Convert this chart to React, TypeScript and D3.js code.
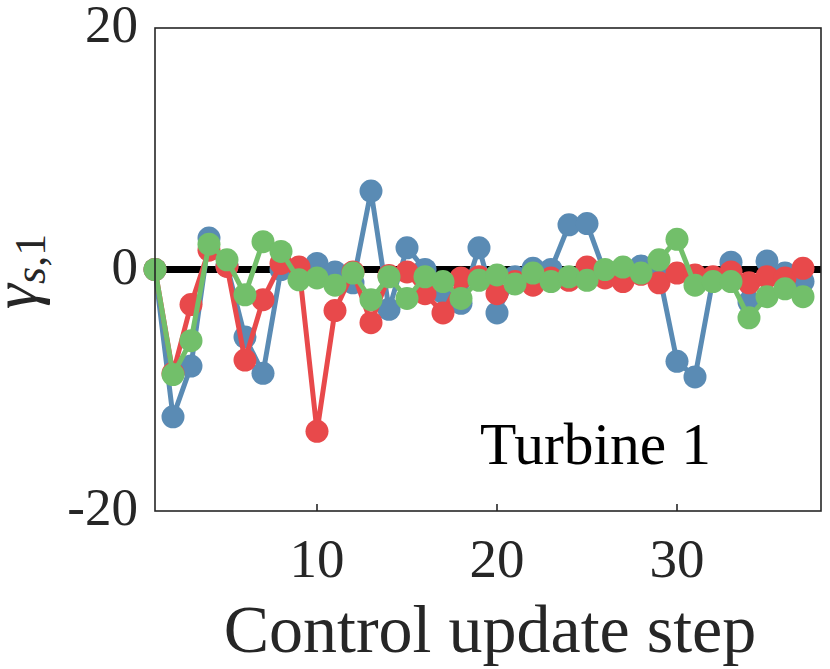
import { useEffect, useRef } from 'react';
import * as d3 from 'd3';

// control update steps 1..37
const steps = d3.range(1, 38);

const blueSeries = [0, -12.2, -8.0, 2.6, 0.3, -5.6, -8.6, 0, -0.3, 0.5, -0.2, -1.1, 6.5, -3.3, 1.8, 0, -1.9, -2.8, 1.8, -3.6, -0.6, 0.1, 0, 3.7, 3.8, -0.3, -0.2, 0.3, -0.3, -7.6, -8.9, -0.8, 0.6, -2.7, 0.7, -0.3, -1.0];
const redSeries = [0, -8.6, -2.9, 1.6, 0.25, -7.5, -2.5, 0.5, 0.2, -13.4, -3.4, -0.2, -4.4, -0.5, -0.2, -2.0, -3.6, -0.7, -0.6, -2.0, -1.0, -1.3, -0.7, -0.9, 0.2, -0.7, -1.0, -0.4, -1.1, -0.3, -0.45, -0.6, -0.2, -1.1, -0.6, -0.7, 0.1];
const greenSeries = [0, -8.7, -5.9, 2.1, 0.8, -2.1, 2.3, 1.5, -0.85, -0.7, -1.3, -0.3, -2.5, -0.6, -2.4, -0.6, -1.0, -2.4, -0.9, -0.45, -1.2, -0.3, -1.0, -0.6, -0.9, 0, 0.2, -0.3, 0.8, 2.5, -1.3, -1.0, -1.0, -4.0, -2.25, -1.6, -2.25];

const seriesColors = ['#5a8bb4', '#e8494b', '#72bf6a'];
const xTicks = [10, 20, 30];
const yTicks = [-20, 0, 20];

export default function App() {
  const svgRef = useRef<SVGSVGElement>(null);

  useEffect(() => {
    if (!svgRef.current) return;
    const W = 830;
    const H = 669;
    const margin = { top: 28, right: 9, bottom: 158, left: 155 };
    const width = W - margin.left - margin.right;
    const height = H - margin.top - margin.bottom;

    const root = d3.select(svgRef.current);
    root.selectAll('*').remove();
    const svg = root.append('g').attr('transform', `translate(${margin.left},${margin.top})`);

    const x = d3.scaleLinear().domain([1, 38]).range([0, width]);
    const y = d3.scaleLinear().domain([-20, 20]).range([height, 0]);
    const font = 'Liberation Serif, Times New Roman, serif';
    const axisColor = '#262626';

    // zero reference line
    svg
      .append('line')
      .attr('x1', 0)
      .attr('x2', width)
      .attr('y1', y(0))
      .attr('y2', y(0))
      .attr('stroke', '#000')
      .attr('stroke-width', 7);

    // series: blue, red, green (green on top)
    const all = [blueSeries, redSeries, greenSeries];
    const line = d3
      .line<number>()
      .x((_, i) => x(steps[i]))
      .y((d) => y(d));

    all.forEach((vals, k) => {
      svg
        .append('path')
        .datum(vals)
        .attr('d', line)
        .attr('fill', 'none')
        .attr('stroke', seriesColors[k])
        .attr('stroke-width', 5)
        .attr('stroke-linejoin', 'round');
      svg
        .append('g')
        .selectAll('circle')
        .data(vals)
        .join('circle')
        .attr('cx', (_, i) => x(steps[i]))
        .attr('cy', (d) => y(d))
        .attr('r', 11.5)
        .attr('fill', seriesColors[k]);
    });

    // frame
    svg
      .append('rect')
      .attr('x', 0)
      .attr('y', 0)
      .attr('width', width)
      .attr('height', height)
      .attr('fill', 'none')
      .attr('stroke', axisColor)
      .attr('stroke-width', 1.6);

    // inner ticks
    svg
      .append('g')
      .selectAll('line')
      .data(xTicks)
      .join('line')
      .attr('x1', (d) => x(d))
      .attr('x2', (d) => x(d))
      .attr('y1', height)
      .attr('y2', height - 7)
      .attr('stroke', axisColor)
      .attr('stroke-width', 1.6);

    // tick labels
    svg
      .append('g')
      .selectAll('text')
      .data(xTicks)
      .join('text')
      .attr('x', (d) => x(d))
      .attr('y', height + 66)
      .attr('text-anchor', 'middle')
      .style('font-family', font)
      .attr('font-size', 55)
      .attr('fill', axisColor)
      .text((d) => d);

    svg
      .append('g')
      .selectAll('text')
      .data(yTicks)
      .join('text')
      .attr('x', -17)
      .attr('y', (d) => y(d) + 14)
      .attr('text-anchor', 'end')
      .style('font-family', font)
      .attr('font-size', 53)
      .attr('fill', axisColor)
      .text((d) => d);

    // x label
    svg
      .append('text')
      .attr('x', width / 2 + 2)
      .attr('y', height + 141)
      .attr('text-anchor', 'middle')
      .style('font-family', font)
      .attr('font-size', 68)
      .attr('fill', axisColor)
      .text('Control update step');

    // y label
    const yl = svg
      .append('text')
      .attr('transform', `translate(${-119},${y(0) + 2}) rotate(-90)`)
      .attr('text-anchor', 'middle')
      .style('font-family', font)
      .attr('fill', axisColor);
    yl.append('tspan').attr('font-size', 64).attr('font-style', 'italic').text('γ');
    yl.append('tspan').attr('font-size', 44).attr('dy', 9).attr('font-style', 'italic').text('s');
    yl.append('tspan').attr('font-size', 44).text(',1');

    // annotation
    svg
      .append('text')
      .attr('x', x(20) - 17)
      .attr('y', y(-16.1))
      .style('font-family', font)
      .attr('font-size', 59.5)
      .attr('fill', '#000')
      .text('Turbine 1');
  }, []);

  return (
    <svg
      ref={svgRef}
      width={830}
      height={669}
      style={{ position: 'absolute', left: 0, top: 0, display: 'block', background: '#fff' }}
    />
  );
}
